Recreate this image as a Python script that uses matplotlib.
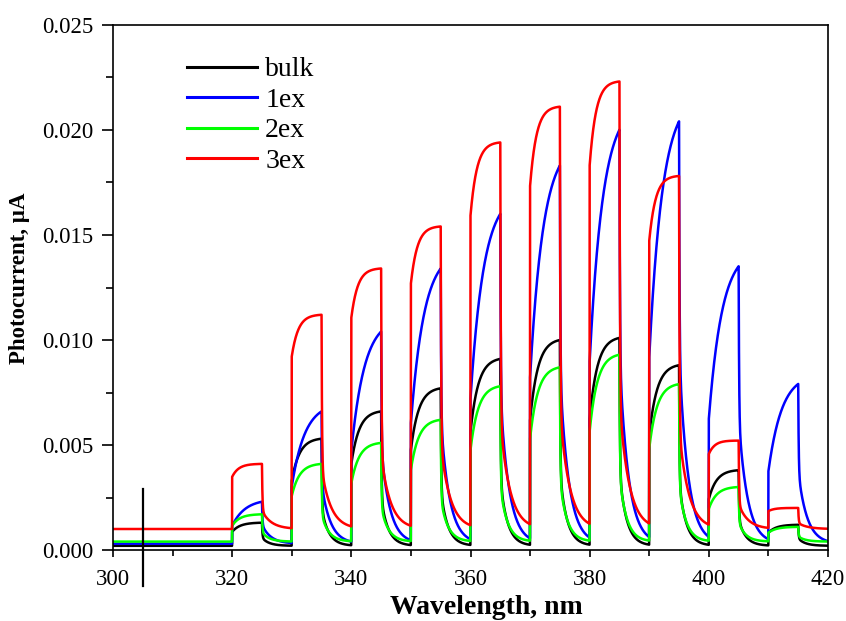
import matplotlib
matplotlib.use("Agg")
import matplotlib.pyplot as plt
import numpy as np
from matplotlib.ticker import MultipleLocator, FormatStrFormatter

plt.rcParams["font.family"] = ["Liberation Serif", "DejaVu Serif"]

# light-on wavelengths (each window lasts 5 nm, then 5 nm dark)
pulse_start = [320, 330, 340, 350, 360, 370, 380, 390, 400, 410]
pulse_len = 5.0

# photocurrent (uA) reached at the end of each light-on window
bulk = [0.0013, 0.0053, 0.0066, 0.0077, 0.0091, 0.0100, 0.0101, 0.0088, 0.0038, 0.0012]
ex1 = [0.0023, 0.0066, 0.0104, 0.0134, 0.0160, 0.0183, 0.0200, 0.0204, 0.0135, 0.0079]
ex2 = [0.0017, 0.0041, 0.0051, 0.0062, 0.0078, 0.0087, 0.0093, 0.0079, 0.0030, 0.0011]
ex3 = [0.0041, 0.0112, 0.0134, 0.0154, 0.0194, 0.0211, 0.0223, 0.0178, 0.0052, 0.0020]

# dark baseline for each sample
baseline = {"bulk": 0.0002, "1ex": 0.0003, "2ex": 0.0004, "3ex": 0.0010}

# response shape: (jump fraction, rise tau, fast-drop fraction, decay tau)
shape = {
    "bulk": (0.60, 1.3, 0.65, 1.2),
    "1ex": (0.40, 2.2, 0.55, 1.5),
    "2ex": (0.58, 1.3, 0.65, 1.2),
    "3ex": (0.80, 1.1, 0.72, 1.6),
}
colors = {"bulk": "#000000", "1ex": "#0000ff", "2ex": "#00ff00", "3ex": "#ff0000"}
levels = {"bulk": bulk, "1ex": ex1, "2ex": ex2, "3ex": ex3}


def trace(name, wl):
    base = baseline[name]
    jump, tau_r, drop, tau_d = shape[name]
    y = np.full_like(wl, base)
    norm = 1 - (1 - jump) * np.exp(-pulse_len / tau_r)
    for s, lvl in zip(pulse_start, levels[name]):
        amp = lvl - base
        t = wl - s
        on = (t >= 0) & (t < pulse_len)
        y[on] += amp * (1 - (1 - jump) * np.exp(-t[on] / tau_r)) / norm
        off = t >= pulse_len
        td = t[off] - pulse_len
        y[off] += amp * (drop * np.exp(-td / 0.08) + (1 - drop) * np.exp(-td / tau_d))
    return y


wl = np.linspace(300, 420, 6001)

fig = plt.figure(figsize=(8.46, 6.21), dpi=100)
ax = fig.add_axes([113 / 846, 1 - 550 / 621, 715 / 846, 525 / 621])

for name in ["bulk", "1ex", "2ex", "3ex"]:
    ax.plot(wl, trace(name, wl), color=colors[name], lw=1.8, label=name)

# stray marker line below the axis near 305 nm
ax.plot([305, 305], [-0.0017, 0.0029], color="black", lw=1.6, clip_on=False)

ax.set_xlim(300, 420)
ax.set_ylim(0, 0.025)
ax.xaxis.set_major_locator(MultipleLocator(20))
ax.xaxis.set_minor_locator(MultipleLocator(10))
ax.yaxis.set_major_locator(MultipleLocator(0.005))
ax.yaxis.set_minor_locator(MultipleLocator(0.0025))
ax.yaxis.set_major_formatter(FormatStrFormatter("%.3f"))
ax.tick_params(axis="both", which="both", direction="out", labelsize=16.5, width=1.2)
ax.tick_params(axis="y", which="major", length=8, pad=6)
ax.tick_params(axis="y", which="minor", length=5)
ax.tick_params(axis="x", which="major", length=5, pad=9)
ax.tick_params(axis="x", which="minor", length=4)
for sp in ax.spines.values():
    sp.set_linewidth(1.2)

fig.text(20 / 846, 1 - 278 / 621, "Photocurrent, µA", rotation=90, ha="center", va="center",
         fontsize=16.5, fontweight="bold")
fig.text(486 / 846, 1 - 607 / 621, "Wavelength, nm", ha="center", va="center",
         fontsize=20, fontweight="bold")

leg = ax.legend(loc="upper left", bbox_to_anchor=(0.104, 0.939), frameon=False, fontsize=20,
                handlelength=2.5, handletextpad=0.3, labelspacing=0.18, borderpad=0,
                borderaxespad=0)
for h in leg.get_lines():
    h.set_linewidth(2.2)

fig.savefig("out.png", dpi=100)
